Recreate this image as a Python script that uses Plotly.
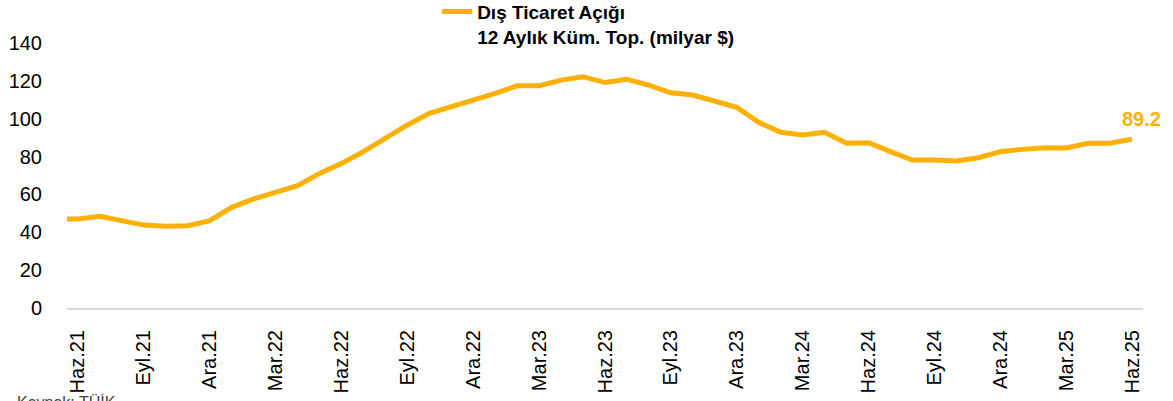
import plotly.graph_objects as go

months = ["May.21", "Haz.21", "Tem.21", "Ağu.21", "Eyl.21", "Eki.21", "Kas.21", "Ara.21",
          "Oca.22", "Şub.22", "Mar.22", "Nis.22", "May.22", "Haz.22", "Tem.22", "Ağu.22",
          "Eyl.22", "Eki.22", "Kas.22", "Ara.22", "Oca.23", "Şub.23", "Mar.23", "Nis.23",
          "May.23", "Haz.23", "Tem.23", "Ağu.23", "Eyl.23", "Eki.23", "Kas.23", "Ara.23",
          "Oca.24", "Şub.24", "Mar.24", "Nis.24", "May.24", "Haz.24", "Tem.24", "Ağu.24",
          "Eyl.24", "Eki.24", "Kas.24", "Ara.24", "Oca.25", "Şub.25", "Mar.25", "Nis.25",
          "May.25", "Haz.25"]

deficit = [47.0, 47.0, 48.4, 46.1, 43.8, 43.2, 43.5, 46.1,
           53.2, 57.6, 61.1, 64.6, 71.1, 76.4, 82.6, 89.6,
           96.7, 102.8, 106.3, 109.5, 113.4, 117.4, 117.4, 120.4,
           122.2, 119.1, 120.8, 117.8, 113.7, 112.5, 109.5, 106.0,
           98.1, 92.8, 91.4, 92.8, 87.0, 87.3, 82.6, 78.2,
           78.2, 77.7, 79.4, 82.6, 83.8, 84.7, 84.5, 87.0,
           87.0, 89.2]

tick_labels = ["Haz.21", "Eyl.21", "Ara.21", "Mar.22", "Haz.22", "Eyl.22", "Ara.22",
               "Mar.23", "Haz.23", "Eyl.23", "Ara.23", "Mar.24", "Haz.24", "Eyl.24",
               "Ara.24", "Mar.25", "Haz.25"]

series_name = "Dış Ticaret Açığı<br>12 Aylık Küm. Top. (milyar $)"
source_text = "Kaynak: TÜİK"

ORANGE = "#FFB000"
FONT = "Liberation Sans, Arial, sans-serif"

fig = go.Figure()
fig.add_trace(go.Scatter(
    x=months, y=deficit, mode="lines", name=series_name,
    line=dict(color=ORANGE, width=5), cliponaxis=True,
))

fig.add_annotation(
    x=months[-1], y=deficit[-1], text=f"<b>{deficit[-1]:.1f}</b>",
    showarrow=False, xshift=9, yshift=20,
    font=dict(family=FONT, size=20, color=ORANGE),
)

fig.add_annotation(
    xref="paper", yref="paper", x=0, y=0, xanchor="left", yanchor="top",
    xshift=-52, yshift=-83, text=source_text, showarrow=False,
    font=dict(family=FONT, size=16, color="#404040"),
)

fig.update_layout(
    width=1173, height=401,
    margin=dict(l=67, r=30, t=43, b=93, autoexpand=False),
    paper_bgcolor="white", plot_bgcolor="white",
    font=dict(family=FONT, size=20, color="#000000"),
    showlegend=True,
    legend=dict(
        x=0.344, y=1.19, xanchor="left", yanchor="top",
        font=dict(family=FONT, size=19, color="#000000", weight="bold"),
        bgcolor="rgba(0,0,0,0)", valign="top", tracegroupgap=0,
    ),
    xaxis=dict(
        type="category", categoryorder="array", categoryarray=months,
        range=[0.5, len(months) - 0.5], automargin=False,
        tickmode="array", tickvals=tick_labels, ticktext=tick_labels,
        tickangle=-90, showgrid=False, zeroline=False,
        showline=True, linecolor="#D9D9D9", linewidth=2,
        ticks="outside", ticklen=12, tickcolor="rgba(0,0,0,0)",
        tickfont=dict(family=FONT, size=20, color="#000000"),
    ),
    yaxis=dict(
        range=[0, 140], tickmode="linear", tick0=0, dtick=20, automargin=False,
        showgrid=False, zeroline=False, showline=False,
        ticks="outside", ticklen=20, tickcolor="rgba(0,0,0,0)",
        tickfont=dict(family=FONT, size=20, color="#000000"),
    ),
)

fig.write_html(
    "out.html",
    config={"displayModeBar": False},
    post_script="document.body.style.margin='0';document.body.style.overflow='hidden';",
)
